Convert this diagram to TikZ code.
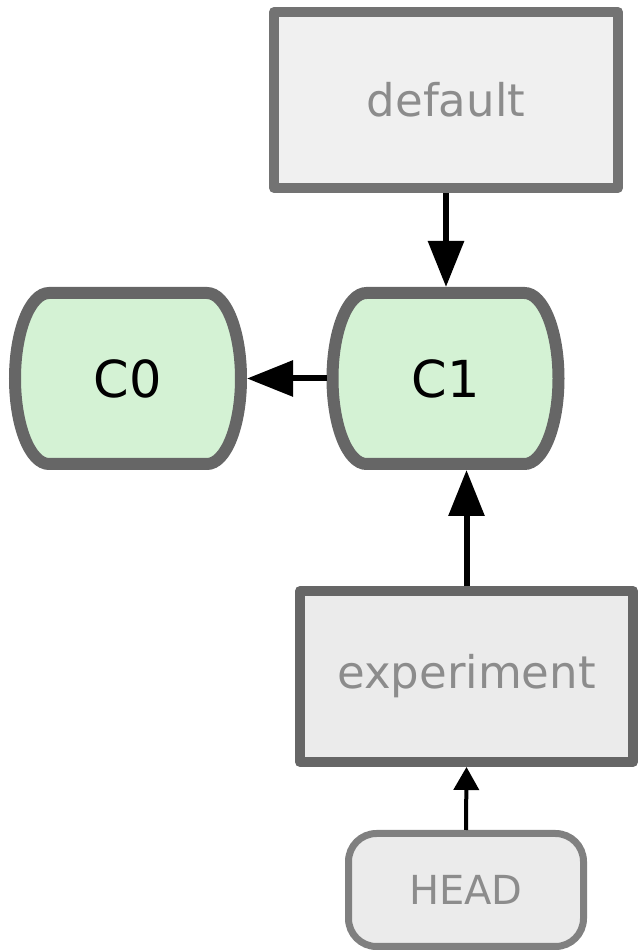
\documentclass[tikz,border=0pt]{standalone}
\usepackage{fontspec}
\setmainfont{DejaVu Sans}
\usetikzlibrary{arrows.meta,calc}
\definecolor{boxfill}{HTML}{F0F0F0}
\definecolor{boxfillb}{HTML}{EBEBEB}
\definecolor{boxline}{HTML}{737373}
\definecolor{boxlineb}{HTML}{666666}
\definecolor{headline}{HTML}{808080}
\definecolor{reftext}{HTML}{8C8C8C}
\definecolor{commitfill}{HTML}{D4F2D4}
\definecolor{commitline}{HTML}{666666}
\tikzset{
  branchbox/.style={draw=boxline, fill=boxfill, line width=10pt, line join=round,
    text=reftext, font=\fontsize{45}{54}\selectfont, inner sep=0pt},
  headbox/.style={draw=headline, fill=boxfillb, line width=7pt, rounded corners=28pt,
    text=reftext, font=\fontsize{40}{48}\selectfont, inner sep=0pt,
    minimum width=235pt, minimum height=113pt},
  commit/.style={inner sep=0pt, minimum width=226pt, minimum height=171pt, outer sep=6pt,
    font=\fontsize{51}{60}\selectfont, text=black},
  commitborder/.style={draw=commitline, fill=commitfill, line width=12pt},
  bigarrow/.style={line width=6pt, -{Triangle[length=46pt,width=35pt]}},
  smallarrow/.style={line width=4pt, -{Triangle[length=23pt,width=25pt]}}
}
\newcommand{\commitshape}[1]{%
  \draw[commitborder]
    ($(#1.north west)+(40pt,-6pt)$) -- ($(#1.north east)+(-40pt,-6pt)$)
    arc[start angle=90, end angle=-90, x radius=34pt, y radius=85.5pt]
    -- ($(#1.south west)+(40pt,6pt)$)
    arc[start angle=270, end angle=90, x radius=34pt, y radius=85.5pt]
    -- cycle;}
\begin{document}
\begin{tikzpicture}[x=1pt,y=1pt]
\useasboundingbox (0,0) rectangle (642,951);
% commits (text nodes; border drawn behind)
\node[commit] (c0) at (128,572.5) {};
\node[commit] (c1) at (445.5,572.5) {};
\commitshape{c0}
\commitshape{c1}
\node[commit] at (c0) {C0};
\node[commit] at (c1) {C1};
% refs
\node[branchbox, minimum width=344pt, minimum height=176pt] (def) at (446,851) {default};
\node[branchbox, draw=boxlineb, fill=boxfillb, minimum width=333pt, minimum height=171pt] (exp) at (466.5,274.5) {experiment};
\node[headbox] (head) at (466,61) {HEAD};
% connectors
\draw[bigarrow] (def.south) -- (def.south |- c1.north);
\draw[bigarrow] (c1.west) -- (c0.east);
\draw[bigarrow] (exp.north) -- (exp.north |- c1.south);
\draw[smallarrow] (head.north) -- (exp.south);
\end{tikzpicture}
\end{document}
